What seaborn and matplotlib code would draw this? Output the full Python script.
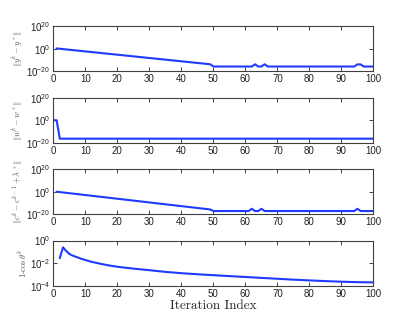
import numpy as np
import pandas as pd
import matplotlib
matplotlib.use('Agg')
import matplotlib.pyplot as plt
import seaborn as sns

# Values (log-scale panels)
iter_y = [1, 49, 50, 62, 63, 64, 65, 66, 67, 94, 95, 96, 97, 100]
err_y = [2.0, 2e-14, 2e-16, 2e-16, 2e-14, 2e-16, 2e-16, 2e-14, 2e-16,
         2e-16, 1.5e-14, 1.5e-14, 2e-16, 2e-16]

iter_w = [0, 1, 2, 100]
err_w = [1.0, 1.0, 5e-17, 5e-17]

iter_c = [1, 49, 50, 61, 62, 63, 64, 65, 66, 94, 95, 96, 100]
err_c = [1.0, 2e-16, 8e-18, 8e-18, 8e-16, 8e-18, 8e-18, 8e-16, 8e-18,
         8e-18, 8e-16, 8e-18, 8e-18]

iter_cos = [2, 3, 4, 5, 6, 7, 8, 9, 10, 12, 15, 17, 20, 25, 30, 35, 40, 45,
            50, 55, 60, 65, 70, 75, 80, 85, 90, 95, 100]
err_cos = [0.028, 0.25, 0.12, 0.065, 0.047, 0.037, 0.029, 0.023, 0.019,
           0.013, 0.0085, 0.0066, 0.0048, 0.0033, 0.0024, 0.0017, 0.0013,
           0.00105, 0.00087, 0.00072, 0.0006, 0.0005, 0.00042, 0.00035,
           0.0003, 0.00026, 0.00023, 0.00021, 0.0002]

ylabels = [r'$\|y^k - y^*\|$', r'$\|w^k - w^*\|$',
           r'$\|c^k - c^{k-1} + \lambda^*\|$', r'$1\text{-}\cos\theta^k$']
xlabel = 'Iteration Index'

sns.set_style('ticks')
plt.rcParams['font.family'] = ['Liberation Sans', 'DejaVu Sans']
plt.rcParams['mathtext.fontset'] = 'cm'

fig, axes = plt.subplots(4, 1, figsize=(4.14, 3.27), dpi=100)
fig.subplots_adjust(left=0.129, right=0.902, top=0.920, bottom=0.126, hspace=0.58)

series = [(iter_y, err_y), (iter_w, err_w), (iter_c, err_c), (iter_cos, err_cos)]
blue = '#1f3bff'

for i, (ax, (xs, ys)) in enumerate(zip(axes, series)):
    df = pd.DataFrame({'it': xs, 'val': ys})
    sns.lineplot(data=df, x='it', y='val', ax=ax, color=blue, linewidth=1.5)
    ax.set_yscale('log')
    ax.set_xlim(0, 100)
    if i < 3:
        ax.set_ylim(1e-20, 1e20)
        ax.set_yticks([1e-20, 1e0, 1e20])
    else:
        ax.set_ylim(1e-4, 1e0)
        ax.set_yticks([1e-4, 1e-2, 1e0])
    ax.yaxis.set_minor_locator(matplotlib.ticker.NullLocator())
    ax.set_xticks(np.arange(0, 101, 10))
    ax.tick_params(direction='in', top=True, right=True, length=3, width=0.6,
                   labelsize=7, pad=2, colors='#222222')
    for sp in ax.spines.values():
        sp.set_color('#404040')
        sp.set_linewidth(0.8)
    ax.set_ylabel(ylabels[i], fontsize=6, color='#555555', labelpad=1)
    ax.set_xlabel('')

axes[-1].set_xlabel(xlabel, fontfamily='cmr10', fontsize=9.5, labelpad=1)

fig.savefig('out.png', dpi=100)
